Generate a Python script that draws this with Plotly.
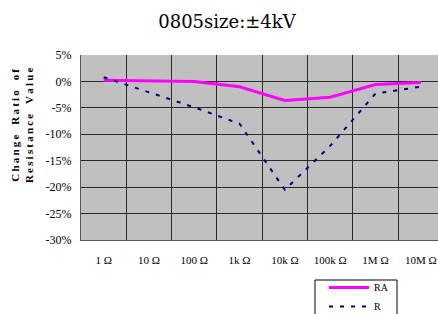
import plotly.graph_objects as go

categories = ["1Ω", "10Ω", "100Ω", "1kΩ", "10kΩ", "100kΩ", "1MΩ", "10MΩ"]
tick_labels = ["1 Ω", "10 Ω", "100 Ω", "1k Ω", "10k Ω", "100k Ω", "1M Ω", "10M Ω"]
ra_values = [0.2, 0.1, 0.0, -1.0, -3.6, -3.0, -0.6, -0.2]
r_values = [0.8, -2.1, -4.9, -8.0, -20.5, -12.2, -2.3, -1.0]
y_tickvals = [5, 0, -5, -10, -15, -20, -25, -30]
y_ticktext = ["5%", "0%", "-5%", "-10%", "-15%", "-20%", "-25%", "-30%"]

serif = "Liberation Serif"
ts = "\u2009"


def spaced(s):
    return (ts).join(list(s)).replace(ts + " " + ts, ts + "  " + ts)


ytitle = "<b>" + spaced("Change Ratio of") + "<br>" + spaced("Resistance Value") + "</b>"

PL, PR, PT, PB = 81, 438, 55, 240
pw, ph = PR - PL, PB - PT


def px(x):
    return (x - PL) / pw


def py(y):
    return (PB - y) / ph


fig = go.Figure()
fig.add_trace(go.Scatter(
    x=categories, y=ra_values, name="RA", mode="lines",
    line=dict(color="#ff00ff", width=3),
))
fig.add_trace(go.Scatter(
    x=categories, y=r_values, name="R", mode="lines",
    line=dict(color="#000080", width=2, dash="4px,7px"),
))

fig.update_layout(
    width=438, height=314,
    margin=dict(l=PL, r=438 - PR, t=PT, b=314 - PB, autoexpand=False),
    paper_bgcolor="white",
    plot_bgcolor="#c0c0c0",
    title=dict(text="0805size:±4kV", x=227 / 438, xref="container", xanchor="center",
               y=1 - 22 / 314, yref="container", yanchor="middle",
               font=dict(family="DejaVu Serif", size=18, color="#000")),
    font=dict(family=serif, color="#000"),
    showlegend=True,
    legend=dict(x=px(324), y=py(273), xanchor="left", yanchor="top",
                bgcolor="rgba(0,0,0,0)", borderwidth=0,
                font=dict(family=serif, size=10, color="#000"),
                itemwidth=40, tracegroupgap=0),
    shapes=[dict(type="rect", xref="paper", yref="paper",
                 x0=px(315), x1=px(397), y0=py(280), y1=py(330),
                 line=dict(color="#000", width=1), fillcolor="rgba(0,0,0,0)", layer="below")],
    annotations=[dict(
        text=ytitle,
        xref="paper", yref="paper", x=-0.165, y=py(125),
        xanchor="center", yanchor="middle", textangle=-90, showarrow=False,
        font=dict(family=serif, size=11, color="#000"), align="center",
    )],
)

fig.update_xaxes(
    type="category", categoryorder="array", categoryarray=categories,
    tickvals=categories, ticktext=tick_labels,
    range=[-0.5, 7.38], tickson="boundaries",
    showgrid=True, gridcolor="#2a2a2a", gridwidth=1,
    showline=True, linecolor="#555", linewidth=1,
    ticks="", ticklabelstandoff=10,
    tickfont=dict(family=serif, size=11, color="#000"),
    fixedrange=True,
)
fig.update_yaxes(
    range=[-30, 5], tickvals=y_tickvals, ticktext=y_ticktext,
    showgrid=True, gridcolor="#2a2a2a", gridwidth=1,
    zeroline=False, showline=True, linecolor="#555", linewidth=1,
    ticks="", ticklabelstandoff=6,
    tickfont=dict(family=serif, size=12, color="#000"),
    fixedrange=True,
)

fig.write_html(
    "out.html",
    config={"displayModeBar": False},
    post_script="document.body.style.margin='0';document.body.style.overflow='hidden';",
)
